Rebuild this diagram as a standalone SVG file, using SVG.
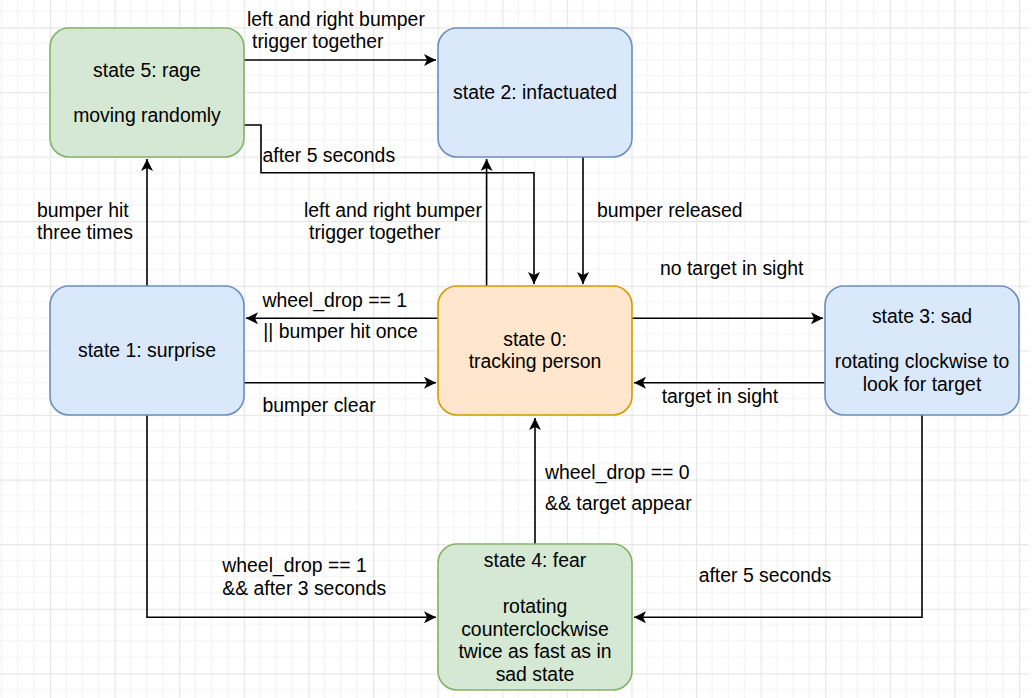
<svg xmlns="http://www.w3.org/2000/svg" width="1032" height="698" viewBox="0 0 1032 698">
  <style>
    .lbl { font-family: "Liberation Sans", Arial, Helvetica, sans-serif; font-size: 19.4px; fill: #000; }
    .ctr { text-anchor: middle; }
    .node { stroke-width: 1.6; }
    .green { fill: #d5e8d4; stroke: #82b366; }
    .blue { fill: #dae8fc; stroke: #6c8ebf; }
    .orange { fill: #ffe6cc; stroke: #d79b00; }
    .edge { fill: none; stroke: #000; stroke-width: 1.6; marker-end: url(#arrow); }
  </style>
  <defs>
    <pattern id="grid" patternUnits="userSpaceOnUse" x="50" y="27.3" width="64.6" height="64.6">
      <path d="M16.15 0V64.6M32.3 0V64.6M48.45 0V64.6M0 16.15H64.6M0 32.3H64.6M0 48.45H64.6" stroke="#f3f3f3" stroke-width="1.2" fill="none"/>
      <path d="M0.5 0V64.6M0 0.5H64.6" stroke="#e6e6e6" stroke-width="1.3" fill="none"/>
    </pattern>
    <marker id="arrow" markerUnits="userSpaceOnUse" markerWidth="14" markerHeight="12" refX="12" refY="6" orient="auto">
      <path d="M0,0 L12,6 L0,12 L3,6 Z" fill="#000"/>
    </marker>
  </defs>
  <rect x="0" y="0" width="1032" height="698" fill="#fff"/>
  <rect x="0" y="0" width="1029" height="698" fill="url(#grid)"/>

  <g id="connectors">
    <path class="edge" d="M244 60H436"/>
    <path class="edge" d="M244 125H261V172.7H534V284"/>
    <path class="edge" d="M147 286V159"/>
    <path class="edge" d="M486.6 286V159"/>
    <path class="edge" d="M583 157V284"/>
    <path class="edge" d="M438 318.3H246"/>
    <path class="edge" d="M244 382.7H436"/>
    <path class="edge" d="M632 318.3H823"/>
    <path class="edge" d="M825 382.7H634"/>
    <path class="edge" d="M535 544V418"/>
    <path class="edge" d="M147 415V617.3H436"/>
    <path class="edge" d="M922 415V617.3H634"/>

    <text class="lbl" x="247" y="25.5">left and right bumper</text>
    <text class="lbl" x="252" y="47.5">trigger together</text>
    <text class="lbl" x="262.5" y="161.7">after 5 seconds</text>
    <text class="lbl" x="37" y="217">bumper hit</text>
    <text class="lbl" x="37" y="239.3">three times</text>
    <text class="lbl" x="304" y="217.3">left and right bumper</text>
    <text class="lbl" x="309" y="239.3">trigger together</text>
    <text class="lbl" x="597" y="216.7">bumper released</text>
    <text class="lbl" x="660" y="275">no target in sight</text>
    <text class="lbl" x="262.5" y="306.7">wheel_drop == 1</text>
    <text class="lbl" x="263.3" y="338.3">|| bumper hit once</text>
    <text class="lbl" x="262.5" y="411.7">bumper clear</text>
    <text class="lbl" x="661.7" y="403.3">target in sight</text>
    <text class="lbl" x="545" y="478.5">wheel_drop == 0</text>
    <text class="lbl" x="545" y="510.3">&amp;&amp; target appear</text>
    <text class="lbl" x="222.3" y="572.2">wheel_drop == 1</text>
    <text class="lbl" x="222.3" y="594.6">&amp;&amp; after 3 seconds</text>
    <text class="lbl" x="698.7" y="582.2">after 5 seconds</text>
  </g>

  <g id="state5">
    <rect class="node green" x="50" y="28" width="194" height="129" rx="19" ry="19"/>
    <text class="lbl ctr" x="147" y="76.7">state 5: rage</text>
    <text class="lbl ctr" x="147" y="121.7">moving randomly</text>
  </g>
  <g id="state2">
    <rect class="node blue" x="438" y="28" width="194" height="129" rx="19" ry="19"/>
    <text class="lbl ctr" x="535" y="99.3">state 2: infactuated</text>
  </g>
  <g id="state1">
    <rect class="node blue" x="50" y="286" width="194" height="129" rx="19" ry="19"/>
    <text class="lbl ctr" x="147" y="357.3">state 1: surprise</text>
  </g>
  <g id="state0">
    <rect class="node orange" x="438" y="286" width="194" height="129" rx="19" ry="19"/>
    <text class="lbl ctr" x="535" y="346">state 0:</text>
    <text class="lbl ctr" x="535" y="368.3">tracking person</text>
  </g>
  <g id="state3">
    <rect class="node blue" x="825" y="286" width="194" height="129" rx="19" ry="19"/>
    <text class="lbl ctr" x="922" y="323.3">state 3: sad</text>
    <text class="lbl ctr" x="922" y="368.3">rotating clockwise to</text>
    <text class="lbl ctr" x="922" y="390.5">look for target</text>
  </g>
  <g id="state4">
    <rect class="node green" x="438" y="544" width="194" height="146" rx="19" ry="19"/>
    <text class="lbl ctr" x="535" y="567">state 4: fear</text>
    <text class="lbl ctr" x="535" y="613.3">rotating</text>
    <text class="lbl ctr" x="535" y="635.7">counterclockwise</text>
    <text class="lbl ctr" x="535" y="658">twice as fast as in</text>
    <text class="lbl ctr" x="535" y="680.5">sad state</text>
  </g>
</svg>
